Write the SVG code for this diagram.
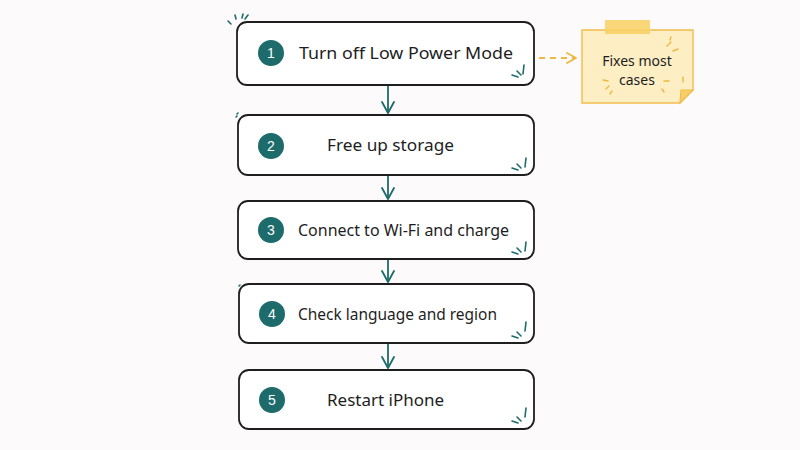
<svg xmlns="http://www.w3.org/2000/svg" width="800" height="450" viewBox="0 0 800 450">
<defs>
<style>
.box{fill:#ffffff;stroke:#1e1e1e;stroke-width:1.8}
.num{fill:#1d6b6b}
.numt{fill:#ffffff;font-family:"Liberation Sans",Arial,sans-serif;font-size:14px;text-anchor:middle}
.lbl{fill:#1e1e1e;font-family:"Noto Sans","Liberation Sans",sans-serif;font-size:16.5px}
.spark{stroke:#1d6b6b;stroke-width:1.6;stroke-linecap:round;fill:none}
.conn{stroke:#1d6b6b;stroke-width:1.8;fill:none}
.ospark{stroke:#f0b840;stroke-width:1.4;stroke-linecap:round;fill:none}
</style>
<marker id="ah" viewBox="0 0 14 14" refX="12" refY="7" markerWidth="14" markerHeight="14" markerUnits="userSpaceOnUse" orient="auto">
<path d="M1,1 L12,7 L1,13" fill="none" stroke="#1d6b6b" stroke-width="1.8" stroke-linecap="round" stroke-linejoin="round"/>
</marker>
<marker id="ah2" viewBox="0 0 12 12" refX="10" refY="6" markerWidth="12" markerHeight="12" markerUnits="userSpaceOnUse" orient="auto">
<path d="M1,1 L10,6 L1,11" fill="none" stroke="#f0b840" stroke-width="1.8" stroke-linecap="round" stroke-linejoin="round"/>
</marker>
</defs>
<rect width="800" height="450" fill="#fcfafa"/>
<g id="connectors">
<line class="conn" x1="388" y1="86" x2="388" y2="113" marker-end="url(#ah)"/>
<line class="conn" x1="388" y1="176" x2="388" y2="199" marker-end="url(#ah)"/>
<line class="conn" x1="388" y1="260" x2="388" y2="282" marker-end="url(#ah)"/>
<line class="conn" x1="388" y1="344" x2="388" y2="368" marker-end="url(#ah)"/>
<line x1="539" y1="58" x2="576" y2="58" stroke="#f0b840" stroke-width="1.8" stroke-dasharray="6,5" marker-end="url(#ah2)"/>
</g>
<g id="step1">
<rect class="box" x="237" y="22" width="297" height="63" rx="10"/>
<circle class="num" cx="271" cy="53" r="13"/>
<text class="numt" x="271" y="58">1</text>
<text class="lbl" x="299" y="59" textLength="214" lengthAdjust="spacingAndGlyphs">Turn off Low Power Mode</text>
<path class="spark" d="M231,24 l-3,-3 M236,19 l-1,-4 M242,18 l1,-4 M245,19 l3,-4"/>
<path class="spark" d="M512,75 l6,2 M517,71 l4,4 M524,65 l-1,9"/>
</g>
<g id="step2">
<rect class="box" x="238" y="115" width="296" height="60" rx="10"/>
<circle class="num" cx="271" cy="146" r="13"/>
<text class="numt" x="271" y="151">2</text>
<text class="lbl" x="327" y="151" textLength="127" lengthAdjust="spacingAndGlyphs">Free up storage</text>
<path class="spark" d="M236,117 l1,-1 M237,114 l1,-1"/>
<path class="spark" d="M512,168 l6,2 M517,164 l4,4 M526,158 l-1,9"/>
</g>
<g id="step3">
<rect class="box" x="238" y="201" width="296" height="58" rx="10"/>
<circle class="num" cx="271" cy="230" r="13"/>
<text class="numt" x="271" y="235">3</text>
<text class="lbl" x="298" y="236" textLength="211" lengthAdjust="spacingAndGlyphs">Connect to Wi-Fi and charge</text>
<path class="spark" d="M512,252 l6,2 M517,248 l4,4 M526,242 l-1,9"/>
</g>
<g id="step4">
<rect class="box" x="239" y="284" width="295" height="59" rx="10"/>
<circle class="num" cx="272" cy="314" r="13"/>
<text class="numt" x="272" y="319">4</text>
<text class="lbl" x="298" y="320" textLength="199" lengthAdjust="spacingAndGlyphs">Check language and region</text>
<path class="spark" d="M239,286 l1,-1"/>
<path class="spark" d="M512,336 l6,2 M517,332 l4,4 M526,322 l-1,9"/>
</g>
<g id="step5">
<rect class="box" x="239" y="370" width="295" height="59" rx="10"/>
<circle class="num" cx="272" cy="400" r="13"/>
<text class="numt" x="272" y="405">5</text>
<text class="lbl" x="327" y="406" textLength="117" lengthAdjust="spacingAndGlyphs">Restart iPhone</text>
<path class="spark" d="M512,421 l6,2 M517,417 l4,4 M526,408 l-1,9"/>
</g>
<g id="note">
<path d="M582,30 L693,30 L693,90 L680,103 L582,103 Z" fill="#fdeec4" stroke="#f2bc4a" stroke-width="1.4"/>
<path d="M693,90 L681,90 L680,103 Z" fill="#f7cf6a" stroke="#f2bc4a" stroke-width="1.2"/>
<rect x="605" y="20" width="45" height="14" fill="#f8d168" opacity="0.9"/>
<text x="637" y="66" fill="#1e1e1e" font-family="Noto Sans,Liberation Sans,sans-serif" font-size="14" text-anchor="middle">Fixes most</text>
<text x="637" y="85" fill="#1e1e1e" font-family="Noto Sans,Liberation Sans,sans-serif" font-size="14" text-anchor="middle">cases</text>
<path class="ospark" d="M667,46 l4,-4 M673,51 l5,-2 M670,40 l1,-3"/>
<path class="ospark" d="M603,80 l5,1 M606,89 l3,-3 M610,94 l2,-3"/>
<path class="ospark" d="M664,81 l5,0 M662,89 l2,3 M683,82 l0,-5"/>
</g>
</svg>
